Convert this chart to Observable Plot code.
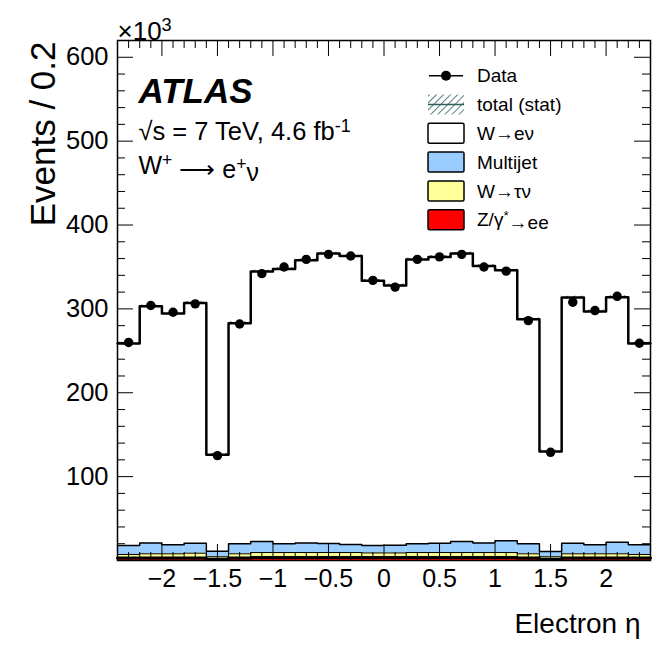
<!DOCTYPE html>
<html><head><meta charset="utf-8">
<script src="https://cdn.jsdelivr.net/npm/d3@7"></script>
<script src="https://cdn.jsdelivr.net/npm/@observablehq/plot@0.6"></script>
<style>
body{margin:0;background:#fff;}
#wrap{position:relative;width:654px;height:650px;font-family:"Liberation Sans",Arial,Helvetica,sans-serif;}
#wrap svg{position:absolute;left:0;top:0;}
</style></head><body><div id="wrap"></div>
<script>
// ---- data (thousands of events per 0.2 in eta) ----
const etaLow = [-2.4,-2.2,-2.0,-1.8,-1.6,-1.4,-1.2,-1.0,-0.8,-0.6,-0.4,-0.2,0.0,0.2,0.4,0.6,0.8,1.0,1.2,1.4,1.6,1.8,2.0,2.2];
const binWidth = 0.2;
const dataEvents = [260,304,296,306,125,282,342,350,359,365,363,334,326,359,362,365,350,345,286,129,308,298,315,259];
const wenu     = [240.7,282,275.8,286.3,115,263,321.8,327.5,337,345.7,344,315.6,309.7,339,341.3,343.3,330,322.5,267.6,119.3,292.8,278.3,292.2,239.9];
const multijet = [10.7,13,10.7,12,6.5,12,13.2,10.5,11.5,10.8,9.5,8.9,9.3,10.5,11.2,13.2,11.5,14,12,6.2,12.7,10.7,13.8,11.5];
const wtaunu   = [4.2,5,5,5.7,3,5,6,6,6,6,6,5.5,5.5,6,6,6,6,6,5,3,5,5,5,4.2];
const zee      = [3,3,3,3,1.5,3,3.5,3.5,3.5,3.5,3.5,3.5,3.5,3.5,3.5,3.5,3.5,3.5,3,1.5,3,3,3,3];
const statErr  = 1.6;
const procNames  = ["Z/γ*→ee","W→τν","Multijet","W→eν"];
const procColors = ["#ff0000","#ffff99","#99ccff","#ffffff"];
const xTickValues = [-2,-1.5,-1,-0.5,0,0.5,1,1.5,2];
const yTickValues = [100,200,300,400,500,600];
const legendLabels = ["Data","total (stat)","W→eν","Multijet","W→τν","Z/γ*→ee"];

// ---- build stack ----
const layers = [zee, wtaunu, multijet, wenu];
const rows = [];
const tops = layers.map(() => []);
etaLow.forEach((x, i) => {
  let c = 0;
  layers.forEach((L, k) => {
    const y1 = c; c += L[i];
    rows.push({x1: x, x2: x + binWidth, y1, y2: c, proc: procNames[k]});
    tops[k].push(c);
  });
});
const mcTotal = tops[3];
const bins = etaLow.map((x, i) => ({x1: x, x2: x + binWidth, xc: x + binWidth / 2, data: dataEvents[i], mc: mcTotal[i]}));
const stepPts = top => [...etaLow.map((x, i) => ({x, y: top[i]})), {x: etaLow[etaLow.length - 1] + binWidth, y: top[top.length - 1]}];

const xMinor = d3.range(-24, 25).map(v => v / 10).filter(v => Math.abs(v * 2 - Math.round(v * 2)) > 1e-6);
const yMinor = d3.range(0, 621, 20).filter(v => v % 100 !== 0);
const yMajorAll = d3.range(0, 601, 100);
const xMajorAll = xTickValues;

const W = 654, H = 650, mL = 117, mR = 4, mT = 40, mB = 90;
const fw = W - mL - mR, fh = H - mT - mB;
const maj = 16, mnr = 8;
const font = "Liberation Sans, Arial, Helvetica, sans-serif";
const fmt = d => (d < 0 ? "\u2212" : "") + Math.abs(d);

const plot = Plot.plot({
  width: W, height: H,
  marginLeft: mL, marginRight: mR, marginTop: mT, marginBottom: mB,
  style: {fontFamily: font, background: "#fff", color: "#000"},
  x: {domain: [-2.4, 2.4]},
  y: {domain: [0, 620]},
  color: {domain: procNames, range: procColors},
  marks: [
    Plot.rect(rows, {x1: "x1", x2: "x2", y1: "y1", y2: "y2", fill: "proc"}),
    Plot.rect(bins, {x1: "x1", x2: "x2", y1: d => d.mc - statErr, y2: d => d.mc + statErr, fill: "url(#hatch)"}),
    Plot.line(stepPts(tops[0]), {x: "x", y: "y", curve: "step-after", stroke: "#000", strokeWidth: 3}),
    Plot.line(stepPts(tops[1]), {x: "x", y: "y", curve: "step-after", stroke: "#000", strokeWidth: 1}),
    Plot.line(stepPts(tops[2]), {x: "x", y: "y", curve: "step-after", stroke: "#000", strokeWidth: 1.5}),
    Plot.line(stepPts(tops[3]), {x: "x", y: "y", curve: "step-after", stroke: "#000", strokeWidth: 2.5}),
    // ticks (inside frame, all four sides)
    Plot.ruleX(xMajorAll, {x: d => d, insetTop: fh - maj, stroke: "#000", strokeWidth: 1}),
    Plot.ruleX(xMinor, {x: d => d, insetTop: fh - mnr, stroke: "#000", strokeWidth: 1}),
    Plot.ruleX(xMajorAll, {x: d => d, insetBottom: fh - maj, stroke: "#000", strokeWidth: 1}),
    Plot.ruleX(xMinor, {x: d => d, insetBottom: fh - mnr, stroke: "#000", strokeWidth: 1}),
    Plot.ruleY(yMajorAll, {y: d => d, insetRight: fw - maj, stroke: "#000", strokeWidth: 1}),
    Plot.ruleY(yMinor, {y: d => d, insetRight: fw - mnr, stroke: "#000", strokeWidth: 1}),
    Plot.ruleY(yMajorAll, {y: d => d, insetLeft: fw - maj, stroke: "#000", strokeWidth: 1}),
    Plot.ruleY(yMinor, {y: d => d, insetLeft: fw - mnr, stroke: "#000", strokeWidth: 1}),
    Plot.dot(bins, {x: "xc", y: "data", r: 4.7, fill: "#000", stroke: "none"}),
    Plot.frame({stroke: "#000", strokeWidth: 1.5}),
    Plot.axisX(xTickValues, {tickSize: 0, tickPadding: 9, fontSize: 25, label: null, tickFormat: fmt}),
    Plot.axisY(yTickValues, {tickSize: 0, tickPadding: 9, fontSize: 25.5, label: null, tickFormat: fmt}),
    Plot.text(["x10^3"], {frameAnchor: "top-left", text: d => d, dx: 0, dy: -1, lineAnchor: "bottom", textAnchor: "start", fontSize: 26}),
    Plot.text(["ATLAS"], {frameAnchor: "top-left", text: d => d, dx: 21, dy: 38, textAnchor: "start", fontSize: 35, fontWeight: "bold", fontStyle: "italic"}),
    Plot.text(["sqrt"], {frameAnchor: "top-left", text: d => d, dx: 21, dy: 81, textAnchor: "start", fontSize: 25.5}),
    Plot.text(["wplus"], {frameAnchor: "top-left", text: d => d, dx: 21, dy: 116, textAnchor: "start", fontSize: 25}),
    Plot.text(["Events / 0.2"], {frameAnchor: "top-left", text: d => d, dx: -87, dy: 1, rotate: -90, textAnchor: "end", fontSize: 35}),
    Plot.text(["Electron η"], {frameAnchor: "bottom-right", text: d => d, dx: -10, dy: 72, textAnchor: "end", fontSize: 28})
  ]
});

// rich text with superscripts
function rich(el, parts) {
  const t = d3.select(el);
  t.text(null);
  let shifted = false;
  parts.forEach(([s, sup]) => {
    const ts = t.append("tspan").text(s);
    if (sup && !shifted) { ts.attr("dy", "-0.45em").attr("font-size", "70%"); shifted = true; }
    else if (sup) { ts.attr("font-size", "70%"); }
    else if (!sup && shifted) { ts.attr("dy", "0.45em"); shifted = false; }
  });
}
d3.select(plot).selectAll("text").each(function () {
  const s = this.textContent;
  if (s === "x10^3") rich(this, [["×10"], ["3", true]]);
  else if (s === "sqrt") rich(this, [["√s = 7 TeV, 4.6 fb"], ["-1", true]]);
  else if (s === "wplus") rich(this, [["W"], ["+", true], [" ⟶ e"], ["+", true], ["ν"]]);
});

// hatch pattern definition
const defs = d3.select(plot).insert("defs", ":first-child");
const pat = defs.append("pattern").attr("id", "hatch").attr("patternUnits", "userSpaceOnUse").attr("width", 5).attr("height", 5).attr("patternTransform", "rotate(45)");
pat.append("rect").attr("width", 5).attr("height", 5).attr("fill", "#fff");
pat.append("line").attr("x1", 0).attr("y1", 0).attr("x2", 0).attr("y2", 5).attr("stroke", "#2f5f5a").attr("stroke-width", 2);

document.getElementById("wrap").appendChild(plot);

// ---- legend overlay ----
const leg = d3.select("#wrap").append("svg").attr("width", W).attr("height", H).style("pointer-events", "none");
const ldefs = leg.append("defs");
const lp = ldefs.append("pattern").attr("id", "lhatch").attr("patternUnits", "userSpaceOnUse").attr("width", 5).attr("height", 5).attr("patternTransform", "rotate(45)");
lp.append("line").attr("x1", 0).attr("y1", 0).attr("x2", 0).attr("y2", 5).attr("stroke", "#2f5f5a").attr("stroke-width", 1.6);
const lx = 428, ly0 = 75.7, lstep = 28.8, bw = 36, bh = 20, tx = 477;
legendLabels.forEach((lab, i) => {
  const cy = ly0 + i * lstep;
  const g = leg.append("g");
  if (i === 0) {
    g.append("line").attr("x1", lx + 1).attr("x2", lx + bw - 1).attr("y1", cy).attr("y2", cy).attr("stroke", "#000").attr("stroke-width", 1.5);
    g.append("circle").attr("cx", lx + bw / 2).attr("cy", cy).attr("r", 5).attr("fill", "#000");
  } else if (i === 1) {
    g.append("rect").attr("x", lx).attr("y", cy - bh / 2).attr("width", bw).attr("height", bh).attr("fill", "url(#lhatch)");
    g.append("line").attr("x1", lx).attr("x2", lx + bw).attr("y1", cy).attr("y2", cy).attr("stroke", "#2f5f5a").attr("stroke-width", 1.5);
  } else {
    const k = procNames.indexOf(lab);
    g.append("rect").attr("x", lx).attr("y", cy - bh / 2).attr("width", bw).attr("height", bh).attr("fill", procColors[k]).attr("stroke", "#000").attr("stroke-width", 1.5).attr("rx", 1.5);
  }
  const t = g.append("text").attr("x", tx).attr("y", cy).attr("dy", "0.35em").attr("font-size", 19).attr("font-family", font);
  if (lab === "Z/γ*→ee") {
    t.append("tspan").text("Z/γ");
    t.append("tspan").attr("dy", "-0.45em").attr("font-size", "70%").text("*");
    t.append("tspan").attr("dy", "0.45em").text("→ee");
  } else t.text(lab);
});
</script></body></html>
